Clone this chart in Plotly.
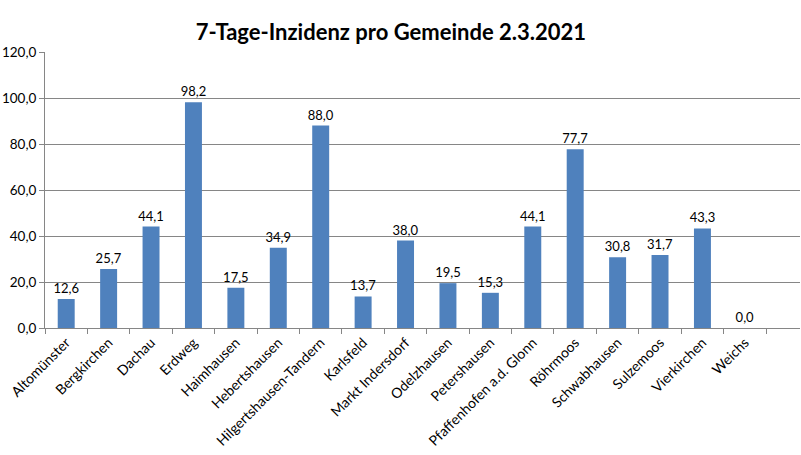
import plotly.graph_objects as go

gemeinden = ["Altomünster", "Bergkirchen", "Dachau", "Erdweg", "Haimhausen", "Hebertshausen",
             "Hilgertshausen-Tandern", "Karlsfeld", "Markt Indersdorf", "Odelzhausen", "Petershausen",
             "Pfaffenhofen a.d. Glonn", "Röhrmoos", "Schwabhausen", "Sulzemoos", "Vierkirchen", "Weichs"]
inzidenz = [12.6, 25.7, 44.1, 98.2, 17.5, 34.9, 88.0, 13.7, 38.0, 19.5, 15.3, 44.1, 77.7, 30.8, 31.7, 43.3, 0.0]
y_ticks = [0, 20, 40, 60, 80, 100, 120]

FONT = "Lato, Calibri, Arial, sans-serif"
GRID = "#868686"

fig = go.Figure(go.Bar(
    x=gemeinden, y=inzidenz,
    marker=dict(color="#4F81BD", line=dict(width=0)),
    width=0.4,
    text=[f"{v:.1f}".replace(".", ",") for v in inzidenz],
    textposition="outside",
    constraintext="none",
    textfont=dict(family=FONT, size=13, color="#000000"),
    cliponaxis=False,
))

fig.update_layout(
    width=801, height=455,
    paper_bgcolor="white", plot_bgcolor="white",
    margin=dict(l=45, r=1, t=52, b=127),
    separators=",.",
    title=dict(text="<b>7-Tage-Inzidenz pro Gemeinde 2.3.2021</b>", x=0.488, xanchor="center",
               y=0.93, yanchor="middle",
               font=dict(family=FONT, size=22, color="#000000")),
    showlegend=False,
    bargap=0.6,
)
fig.update_xaxes(
    type="category", range=[-0.5, 17.3], automargin=False,
    tickangle=-45, tickfont=dict(family=FONT, size=14, color="#000000"),
    showline=True, linecolor=GRID, linewidth=1,
    ticks="outside", ticklen=5, tickcolor=GRID, tickson="boundaries",
    showgrid=False,
)
fig.update_yaxes(
    range=[0, 120], tickvals=y_ticks, tickformat=".1f", automargin=False,
    tickfont=dict(family=FONT, size=13.5, color="#000000"),
    showgrid=True, gridcolor=GRID, gridwidth=1,
    showline=True, linecolor=GRID, linewidth=1,
    ticks="outside", ticklen=5, tickcolor=GRID,
    zeroline=False,
)

fig.write_html("out.html",
               config={"displayModeBar": False},
               post_script="document.body.style.margin='0px';document.body.style.overflow='hidden';")
